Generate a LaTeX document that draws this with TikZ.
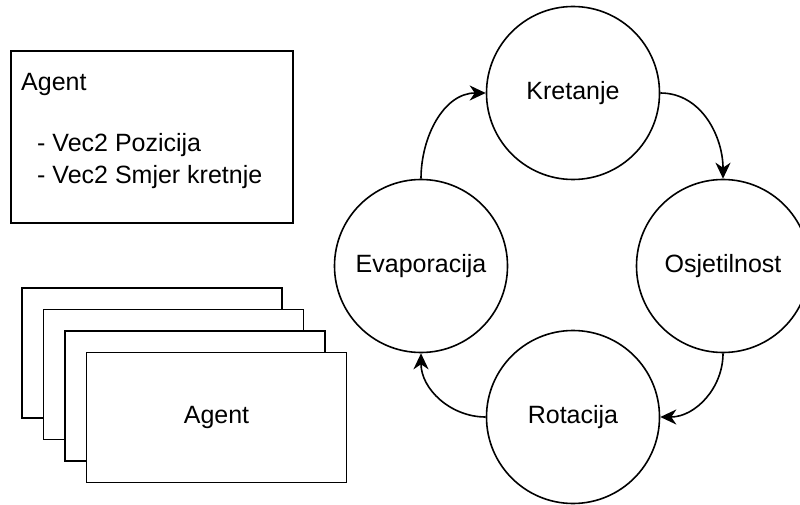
\documentclass[tikz,border=0pt]{standalone}
\usepackage{fontspec}
\setmainfont{Liberation Sans}
\usetikzlibrary{arrows.meta}
\tikzset{
  state/.style={circle, draw, line width=1.6pt, minimum size=173pt, inner sep=0pt},
  card/.style={rectangle, draw, fill=white, line width=1.6pt, minimum width=260pt, minimum height=130pt},
  flow/.style={-{Stealth[length=16pt,width=15pt,inset=5pt]}, line width=1.6pt},
}
\begin{document}
\begin{tikzpicture}[x=1pt, y=1pt, font=\fontsize{25}{31}\selectfont]
    \useasboundingbox (0,0) rectangle (800,504);
    % agent record
    \node[draw, line width=1.6pt, minimum width=282pt, minimum height=172pt] (agentbox) at (152,367) {};
    \node[anchor=base west, inner sep=0pt] (agentname) at (21,413) {Agent};
    \node[anchor=base west, inner sep=0pt] (attrpos) at (37,352) {- Vec2 Pozicija};
    \node[anchor=base west, inner sep=0pt] (attrdir) at (37,320) {- Vec2 Smjer kretnje};
    % stack of agents
    \node[card] (agent1) at (152,151) {};
    \node[card] (agent2) at (173.5,129.5) {};
    \node[card] (agent3) at (195,108) {};
    \node[card] (agent4) at (216.5,86.5) {Agent};
    % cycle
    \node[state] (kretanje) at (573,411) {Kretanje};
    \node[state] (osjetilnost) at (723,238) {Osjetilnost};
    \node[state] (rotacija) at (573,87) {Rotacija};
    \node[state] (evaporacija) at (421,238) {Evaporacija};
    \draw[flow] (evaporacija.north) to[out=90,in=180] (kretanje.west);
    \draw[flow] (kretanje.east) to[out=0,in=90] (osjetilnost.north);
    \draw[flow] (osjetilnost.south) to[out=270,in=0] (rotacija.east);
    \draw[flow] (rotacija.west) to[out=180,in=270] (evaporacija.south);
\end{tikzpicture}
\end{document}
